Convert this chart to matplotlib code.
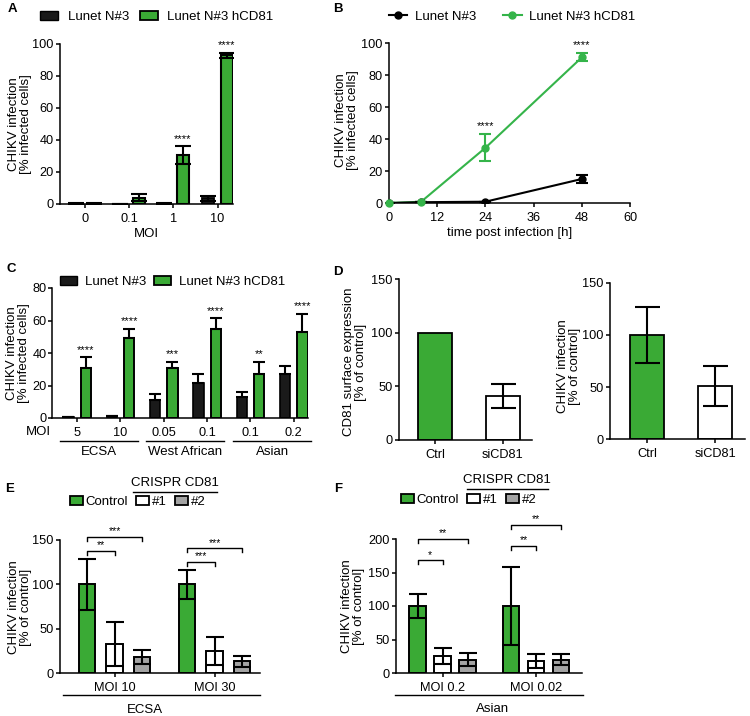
import numpy as np
import matplotlib.pyplot as plt
from matplotlib.patches import Patch
from matplotlib.lines import Line2D

plt.rcParams['font.family'] = ['Liberation Sans', 'DejaVu Sans']
plt.rcParams['font.size'] = 9.5
plt.rcParams['axes.linewidth'] = 1.1
plt.rcParams['xtick.labelsize'] = 9.2
plt.rcParams['ytick.labelsize'] = 9.2

GREEN = '#3aaa35'
LINE_GREEN = '#35b44a'
BLACK = '#1a1a1a'
GRAY = '#a3a3a3'

# A: infection vs MOI
moi_a = ['0', '0.1', '1', '10']
a_ctrl = [0.5, 0.2, 0.3, 3.5]
a_ctrl_err = [0.3, 0.1, 0.2, 1.5]
a_cd81 = [0.3, 4.0, 30.5, 93.0]
a_cd81_err = [0.2, 2.0, 5.5, 1.5]
a_sig = ['', '', '****', '****']

# B: time course
time_b = [0, 8, 24, 48]
b_ctrl = [0, 0.5, 0.8, 15]
b_ctrl_err = [0, 0, 0, 2.5]
b_cd81 = [0, 0.8, 34.5, 91]
b_cd81_err = [0, 0, 8.5, 2.5]
b_sig = ['', '', '****', '****']

# C: strains
moi_c = ['5', '10', '0.05', '0.1', '0.1', '0.2']
strain_c = ['ECSA', 'West African', 'Asian']
c_ctrl = [0.5, 1.0, 11, 21.3, 13, 27]
c_ctrl_err = [0.3, 0.4, 3.5, 5.7, 3.2, 5]
c_cd81 = [31, 49, 31, 55, 27, 53]
c_cd81_err = [6.5, 6, 3.5, 6.5, 7.5, 11]
c_sig = ['****', '****', '***', '****', '**', '****']

# D: siRNA
d_groups = ['Ctrl', 'siCD81']
d_surface = [100, 41]
d_surface_err = [np.nan, 11]
d_infection = [100, 51]
d_infection_err = [27, 19.5]

# E / F: CRISPR
crispr = ['Control', '#1', '#2']
e_moi = ['MOI 10', 'MOI 30']
e_vals = [[100, 33, 18.5], [100, 25, 13]]
e_errs = [[29, 25, 8], [16, 16, 6.5]]
e_sig = [['**', '***'], ['***', '***']]
e_levels = [[138, 153.5], [125.5, 140.5]]

f_moi = ['MOI 0.2', 'MOI 0.02']
f_vals = [[100, 26, 20], [100, 18, 20]]
f_errs = [[17.5, 12, 10], [58, 10, 8]]
f_sig = [['*', '**'], ['**', '**']]
f_levels = [[168, 200], [190, 221]]

W, H = 750, 716
fig = plt.figure(figsize=(W / 100, H / 100), dpi=100)


def add_ax(l, t, r, b):
    ax = fig.add_axes([l / W, 1 - b / H, (r - l) / W, (b - t) / H])
    ax.spines[['top', 'right']].set_visible(False)
    ax.tick_params(direction='out', length=3, width=1.1)
    ax.tick_params(axis='y', pad=1.5)
    return ax


def ftext(x, y, s, **kw):
    fig.text(x / W, 1 - y / H, s, **kw)


def ylab(x, y, s):
    ftext(x, y, s, rotation=90, ha='center', va='center', linespacing=1.05)


def fline(x1, x2, y):
    fig.add_artist(Line2D([x1 / W, x2 / W], [1 - y / H, 1 - y / H], color='black', lw=1))


ebar = dict(ecolor='black', elinewidth=1.5, capthick=1.5)
leg_kw = dict(frameon=False, borderpad=0, borderaxespad=0, loc='center left')

# ---- A ----
ax = add_ax(60, 44, 233, 204)
x = np.arange(len(moi_a))
ax.bar(x - 0.21, a_ctrl, 0.27, color=BLACK, edgecolor='black', lw=1.3,
       yerr=a_ctrl_err, capsize=6, error_kw=ebar)
ax.bar(x + 0.21, a_cd81, 0.27, color=GREEN, edgecolor='black', lw=1.5,
       yerr=a_cd81_err, capsize=6, error_kw=ebar)
for xi, v, e, s in zip(x, a_cd81, a_cd81_err, a_sig):
    if s:
        ax.text(xi + 0.21, v + e + 1.5, s, ha='center', va='bottom', fontsize=8)
ax.set_xlim(-0.57, 3.35)
ax.set_ylim(0, 100)
ax.set_xticks(x, moi_a)
ax.set_yticks(range(0, 101, 20))
ax.set_xlabel('MOI', labelpad=2)
ylab(20, 124, 'CHIKV infection\n[% infected cells]')
fig.legend(handles=[Patch(facecolor=BLACK, edgecolor='black', label='Lunet N#3'),
                    Patch(facecolor=GREEN, edgecolor='black', lw=1.3, label='Lunet N#3 hCD81')],
           bbox_to_anchor=(40 / W, 1 - 17 / H), ncol=2, handlelength=1.4, handleheight=0.7,
           handletextpad=0.7, columnspacing=0.8, **leg_kw)
ftext(12, 9, 'A', fontweight='bold', ha='center', va='center')

# ---- B ----
ax = add_ax(389, 43, 630, 203)
ax.errorbar(time_b, b_cd81, yerr=b_cd81_err, color=LINE_GREEN, lw=1.5, capsize=4,
            capthick=1.5, elinewidth=1.5, zorder=2)
ax.errorbar(time_b, b_ctrl, yerr=b_ctrl_err, color='black', lw=1.5, marker='o', ms=5,
            capsize=4, capthick=1.5, elinewidth=1.5, zorder=3)
ax.plot(time_b, b_cd81, 'o', color=LINE_GREEN, ms=5, zorder=4, clip_on=False)
for t, v, e, s in zip(time_b, b_cd81, b_cd81_err, b_sig):
    if s:
        ax.text(t, v + e + 2, s, ha='center', va='bottom', fontsize=8)
ax.set_xlim(0, 60)
ax.set_ylim(0, 100)
ax.set_xticks(range(0, 61, 12))
ax.set_yticks(range(0, 101, 20))
ax.set_xlabel('time post infection [h]', labelpad=2)
ylab(347, 120, 'CHIKV infection\n[% infected cells]')
fig.legend(handles=[Line2D([], [], color='black', marker='o', ms=5, lw=1.5, label='Lunet N#3'),
                    Line2D([], [], color=LINE_GREEN, marker='o', ms=5, lw=1.5, label='Lunet N#3 hCD81')],
           bbox_to_anchor=(389 / W, 1 - 17 / H), ncol=2, handlelength=1.4,
           handletextpad=0.6, columnspacing=2.0, **leg_kw)
ftext(338, 9, 'B', fontweight='bold', ha='center', va='center')

# ---- C ----
ax = add_ax(52, 288, 308, 418)
ax.tick_params(axis='y', pad=1)
x = np.arange(len(moi_c))
ax.bar(x - 0.2, c_ctrl, 0.24, color=BLACK, edgecolor='black', lw=1.2,
       yerr=[np.zeros(len(x)), c_ctrl_err], capsize=4, error_kw=ebar)
ax.bar(x + 0.2, c_cd81, 0.24, color=GREEN, edgecolor='black', lw=1.4,
       yerr=[np.zeros(len(x)), c_cd81_err], capsize=4, error_kw=ebar)
for xi, v, e, s in zip(x, c_cd81, c_cd81_err, c_sig):
    ax.text(xi + 0.2, v + e + 1.5, s, ha='center', va='bottom', fontsize=8)
ax.set_xlim(-0.58, 5.33)
ax.set_ylim(0, 80)
ax.set_xticks(x, moi_c)
ax.set_yticks(range(0, 81, 20))
ftext(38, 432, 'MOI', ha='center', va='center')
tr = ax.get_xaxis_transform()
for i, name in enumerate(strain_c):
    c = 2 * i + 0.5
    ax.plot([c - 0.9, c + 0.9], [-0.177, -0.177], color='black', lw=1, transform=tr, clip_on=False)
    ax.text(c, -0.26, name, ha='center', va='center', transform=tr)
ylab(18, 353, 'CHIKV infection\n[% infected cells]')
fig.legend(handles=[Patch(facecolor=BLACK, edgecolor='black', label='Lunet N#3'),
                    Patch(facecolor=GREEN, edgecolor='black', lw=1.3, label='Lunet N#3 hCD81')],
           bbox_to_anchor=(60 / W, 1 - 282 / H), ncol=2, handlelength=1.3, handleheight=0.6,
           handletextpad=0.6, columnspacing=0.6, **leg_kw)
ftext(11, 269, 'C', fontweight='bold', ha='center', va='center')

# ---- D ----
ax = add_ax(399, 279, 532, 440)
ax.bar([0, 1], d_surface, 0.5, color=[GREEN, 'white'], edgecolor='black', lw=1.3,
       yerr=d_surface_err, capsize=9, error_kw=ebar)
ax.set_xlim(-0.53, 1.43)
ax.set_ylim(0, 150)
ax.set_xticks([0, 1], d_groups)
ax.set_yticks(range(0, 151, 50))
ylab(355, 362, 'CD81 surface expression\n[% of control]')

ax = add_ax(610, 283, 745, 439)
ax.bar([0, 1], d_infection, 0.5, color=[GREEN, 'white'], edgecolor='black', lw=1.3,
       yerr=d_infection_err, capsize=9, error_kw=ebar)
ax.set_xlim(-0.54, 1.44)
ax.set_ylim(0, 150)
ax.set_xticks([0, 1], d_groups)
ax.set_yticks(range(0, 151, 50))
ylab(569, 366, 'CHIKV infection\n[% of control]')
ftext(338, 272, 'D', fontweight='bold', ha='center', va='center')


# ---- E / F ----
def crispr_panel(box, vals, errs, labels, sigs, levels, off, width, xlim, ylim, yticks, tick):
    ax = add_ax(*box)
    colors = [GREEN, 'white', GRAY]
    for g in range(len(vals)):
        xs = [g + (j - 1) * off for j in range(3)]
        ax.bar(xs, vals[g], width, color=colors, edgecolor='black', lw=1.4,
               yerr=errs[g], capsize=6.5, error_kw=ebar)
        for s, lev, j in zip(sigs[g], levels[g], [1, 2]):
            x1, x2 = xs[0], xs[j]
            ax.plot([x1, x1, x2, x2], [lev - tick, lev, lev, lev - tick], color='black',
                    lw=1, clip_on=False)
            ax.text((x1 + x2) / 2, lev + tick * 0.2, s, ha='center', va='bottom', fontsize=7.5)
    ax.set_xlim(*xlim)
    ax.set_ylim(*ylim)
    ax.set_xticks(range(len(vals)), labels)
    ax.set_yticks(yticks)
    return ax


def crispr_legend(x, y):
    colors = [GREEN, 'white', GRAY]
    fig.legend(handles=[Patch(facecolor=c, edgecolor='black', lw=1.3, label=n)
                        for c, n in zip(colors, crispr)],
               bbox_to_anchor=(x / W, 1 - y / H), ncol=3, handlelength=1.0, handleheight=0.6,
               handletextpad=0.2, columnspacing=0.6, **leg_kw)


ax = crispr_panel((60, 540, 260, 673), e_vals, e_errs, e_moi, e_sig, e_levels,
                  0.273, 0.165, (-0.545, 1.455), (0, 150), range(0, 151, 50), 4.5)
tr = ax.get_xaxis_transform()
ax.plot([-0.515, 1.455], [-0.165, -0.165], color='black', lw=1, transform=tr, clip_on=False)
ax.text(0.3, -0.28, 'ECSA', ha='center', va='center', transform=tr)
ylab(20, 607, 'CHIKV infection\n[% of control]')
crispr_legend(70, 502)
ftext(175, 483, 'CRISPR CD81', ha='center', va='center')
fline(133, 217, 492)
ftext(10, 489, 'E', fontweight='bold', ha='center', va='center')

ax = crispr_panel((396, 539, 582, 673), f_vals, f_errs, f_moi, f_sig, f_levels,
                  0.267, 0.175, (-0.497, 1.49), (0, 200), range(0, 201, 50), 6)
tr = ax.get_xaxis_transform()
ax.plot([-0.51, 1.5], [-0.164, -0.164], color='black', lw=1, transform=tr, clip_on=False)
ax.text(0.53, -0.27, 'Asian', ha='center', va='center', transform=tr)
ylab(353, 606, 'CHIKV infection\n[% of control]')
crispr_legend(401, 500)
ftext(507, 480, 'CRISPR CD81', ha='center', va='center')
fline(467, 548, 489)
ftext(338, 489, 'F', fontweight='bold', ha='center', va='center')

fig.savefig('out.png', dpi=100)
